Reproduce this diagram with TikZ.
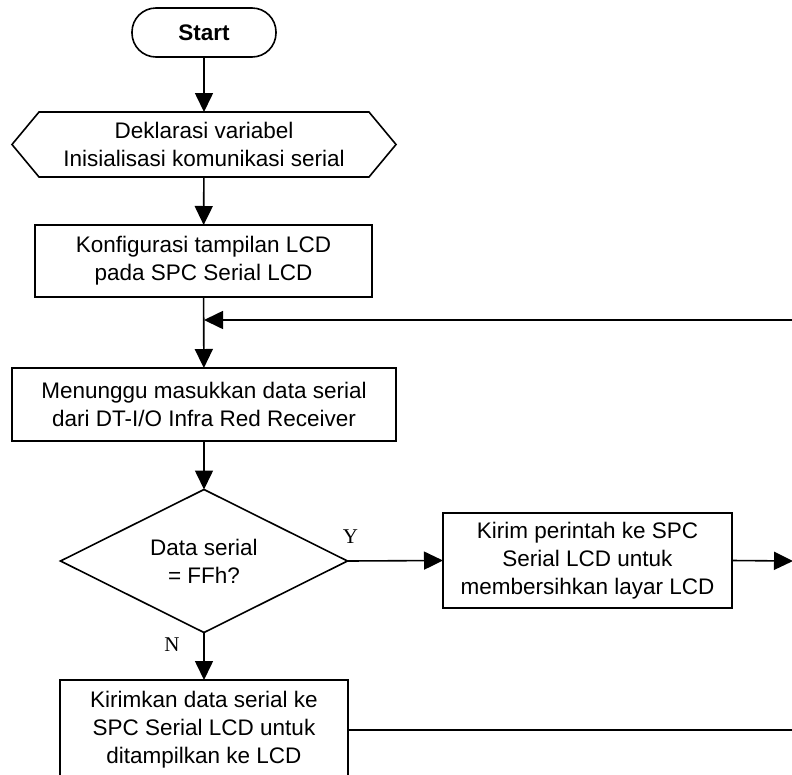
\documentclass[tikz,border=0pt]{standalone}
\usepackage{fontspec}
\setmainfont{Liberation Sans}
\newfontfamily\lblfont{Liberation Serif}
\usetikzlibrary{arrows.meta,shapes.geometric}
\tikzset{
  flow/.style={line width=1.6pt},
  arr/.style={flow,-{Triangle[length=19pt,width=18pt]}},
  txt/.style={font=\fontsize{22.5}{28}\selectfont, align=center, inner sep=0pt, outer sep=0pt},
  procbox/.style={txt, draw, line width=1.6pt},
  yn/.style={font=\lblfont\fontsize{21}{21}\selectfont, inner sep=0pt}
}
\begin{document}
\begin{tikzpicture}[x=1pt,y=-1pt]
\useasboundingbox (0,0) rectangle (792,774);
\clip (0,0) rectangle (792,774);
\node[procbox, rounded corners=24pt, minimum width=144, minimum height=49, font=\bfseries\fontsize{22.5}{28}\selectfont] (start) at (204,32.5) {Start};
\node[txt, minimum width=384, minimum height=65] (dekl) at (204,144.5) {Deklarasi variabel\\Inisialisasi komunikasi serial};
\draw[flow, line join=miter] (dekl.west) -- ([xshift=27pt]dekl.north west) -- ([xshift=-27pt]dekl.north east) -- (dekl.east) -- ([xshift=-27pt]dekl.south east) -- ([xshift=27pt]dekl.south west) -- cycle;
\node[procbox, minimum width=337, minimum height=72] (konf) at (203.5,261) {Konfigurasi tampilan LCD\\pada SPC Serial LCD};
\node[procbox, minimum width=384, minimum height=73] (tunggu) at (204,404.5) {Menunggu masukkan data serial\\dari DT-I/O Infra Red Receiver};
\node[txt, draw, line width=1.6pt, diamond, shape aspect=2, minimum width=287, minimum height=143] (dec) at (204,561) {Data serial\\= FFh?};
\node[procbox, minimum width=289, minimum height=95] (clr) at (587.5,560.5) {Kirim perintah ke SPC\\Serial LCD untuk\\membersihkan layar LCD};
\node[procbox, minimum width=288, minimum height=100] (kirim) at (204,730) {Kirimkan data serial ke\\SPC Serial LCD untuk\\ditampilkan ke LCD};
\coordinate (merge) at (204,320);
\coordinate (retin) at (792,320);
\coordinate (clrout) at (793,561);
\coordinate (kout) at (792,730);
\draw[arr] (start) -- (dekl);
\draw[arr] (dekl) -- (konf);
\draw[arr] (konf) -- (tunggu);
\draw[arr] (retin) -- (merge);
\draw[arr] (tunggu) -- (dec);
\draw[arr] (dec.east) -- (clr.west);
\draw[arr] (clr.east) -- (clrout);
\draw[arr] (dec.south) -- (kirim.north);
\draw[flow] (kirim.east) -- (kout);
\node[yn] (ylbl) at (350.5,537) {Y};
\node[yn] (nlbl) at (172,644.5) {N};
\end{tikzpicture}
\end{document}
